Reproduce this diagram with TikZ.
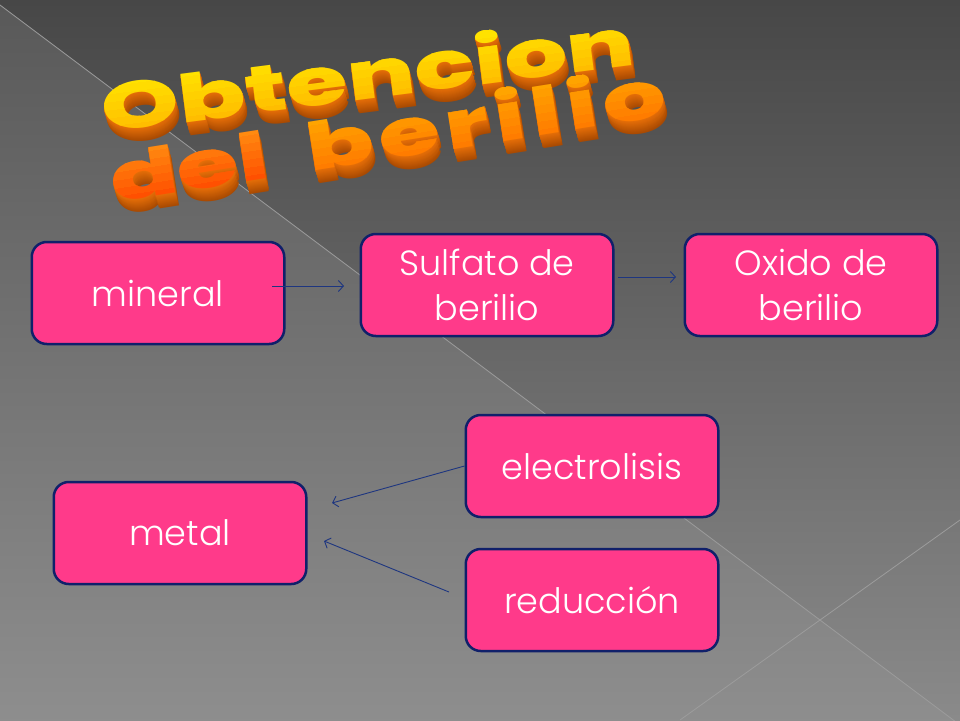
\documentclass[tikz,border=0pt]{standalone}
\usepackage{fontspec}
\setmainfont{Poppins Light}
\newfontfamily\titleA{Poppins}[BoldFont={* ExtraBold}]
\newfontfamily\titleC{Poppins}[BoldFont={* ExtraBold}, LetterSpace=6]
\usetikzlibrary{calc,arrows.meta}
\definecolor{boxpink}{HTML}{FF3A8A}
\definecolor{boxedge}{HTML}{10206A}
\definecolor{arrowblue}{HTML}{1E3680}
\definecolor{bgtop}{HTML}{474747}
\definecolor{bgbot}{HTML}{8A8A8A}
\definecolor{bgltop}{HTML}{595959}
\definecolor{bglbot}{HTML}{8E8E8E}
\definecolor{bgline}{HTML}{9C9C9C}
\definecolor{wsidetop}{HTML}{E87008}
\definecolor{wsidebot}{HTML}{984000}
\definecolor{yelA}{HTML}{FFE200}
\definecolor{yelB}{HTML}{FFBC00}
\definecolor{orA}{HTML}{FF8A10}
\definecolor{orB}{HTML}{FF4E00}
\definecolor{orC}{HTML}{FFA400}
\definecolor{orD}{HTML}{FF7A00}
\newcommand\wordart[8]{%
  \foreach \k in {13,12,...,1}{%
    \pgfmathtruncatemacro\p{100-\k*6}%
    \begin{scope}[shift={(#1+0.3*\k,#2+\k)}, rotate=#3, transform shape]
      \node[wa, font=#4, text=wsidetop!\p!wsidebot] (#8-s\k) at (0,0) {#5};
    \end{scope}}%
  \foreach \i in {0,...,6}{%
    \pgfmathtruncatemacro\p{100-\i*16}%
    \begin{scope}[shift={(#1,#2)}, rotate=#3, transform shape]
      \clip (-30,-54+\i*8) rectangle (800,-54+\i*8+8.6);
      \node[wa, font=#4, text=#6!\p!#7] (#8-f\i) at (0,0) {#5};
    \end{scope}}%
}
\begin{document}
\begin{tikzpicture}[x=1pt,y=-1pt,
  box/.style={draw=boxedge, line width=2.5pt, fill=boxpink, rounded corners=15pt,
    minimum width=252.5pt, minimum height=102pt, text=white, inner sep=0pt,
    font=\fontsize{35}{45}\selectfont, align=center},
  arr/.style={draw=arrowblue, line width=0.9pt, -{Straight Barb[length=5pt,width=11pt]}},
  wa/.style={anchor=base west, inner sep=0pt, xscale=1.5}]
\useasboundingbox (0,0) rectangle (960,720);
% background
\shade[top color=bgtop, bottom color=bgbot] (0,0) rectangle (960,720);
\shade[top color=bgltop, bottom color=bglbot] (0,5) -- (960,725) -- (0,725) -- cycle;
\draw[bgline, line width=0.8pt] (0,5) -- (960,725);
\draw[bgline, line width=0.8pt] (960,520) -- (680,720);
% title
\wordart{104}{133}{7.3}{\titleA\bfseries\fontsize{66}{66}\selectfont}{Obtencion}{yelA}{yelB}{tA}
\wordart{114}{203}{9}{\titleA\bfseries\fontsize{66}{66}\selectfont}{del}{orA}{orB}{tB}
\wordart{310}{172}{9}{\titleC\bfseries\fontsize{66}{66}\selectfont}{berilio}{orC}{orD}{tC}
% boxes
\node[box] (mineral) at (158,293) {mineral};
\node[box] (sulfato) at (487,285) {Sulfato de\\berilio};
\node[box] (oxido) at (811,285) {Oxido de\\berilio};
\node[box] (electro) at (592,466) {electrolisis};
\node[box] (reduc) at (592,600) {reducción};
\node[box] (metal) at (180,533) {metal};
% arrows
\draw[arr] ($(mineral.east)+(-13.5,-7)$) -- ($(sulfato.west)+(-15.5,1)$);
\draw[arr] ($(sulfato.east)+(3.5,-8)$) -- ($(oxido.west)+(-7.5,-8)$);
\draw[arr] (electro.west) -- ($(metal.east)+(24.5,-30)$);
\draw[arr] ($(reduc.west)+(-15.5,-8)$) -- ($(metal.east)+(16.5,8)$);
\end{tikzpicture}
\end{document}
